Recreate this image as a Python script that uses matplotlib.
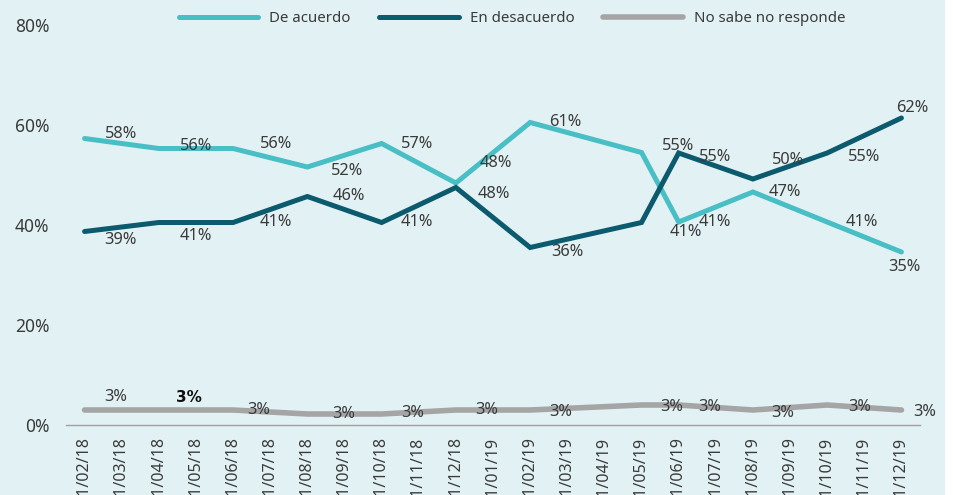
import matplotlib
matplotlib.use("Agg")
import matplotlib.pyplot as plt
from matplotlib.patches import Rectangle

plt.rcParams['font.family'] = ['Noto Sans', 'DejaVu Sans']

# ---- data ----
dates = ["01/02/18", "01/03/18", "01/04/18", "01/05/18", "01/06/18", "01/07/18",
         "01/08/18", "01/09/18", "01/10/18", "01/11/18", "01/12/18", "01/01/19",
         "01/02/19", "01/03/19", "01/04/19", "01/05/19", "01/06/19", "01/07/19",
         "01/08/19", "01/09/19", "01/10/19", "01/11/19", "01/12/19"]
survey_idx = [0, 2, 4, 6, 8, 10, 12, 15, 16, 18, 20, 22]

de_acuerdo = [57.3, 55.3, 55.3, 51.6, 56.3, 48.4, 60.5, 54.5, 40.6, 46.6, 40.6, 34.6]
en_desacuerdo = [38.7, 40.5, 40.5, 45.7, 40.5, 47.5, 35.5, 40.5, 54.4, 49.2, 54.4, 61.4]
no_sabe = [3.0, 3.0, 3.0, 2.2, 2.2, 3.0, 3.0, 4.0, 4.0, 3.0, 4.0, 3.0]

lbl_acuerdo = ["58%", "56%", "56%", "52%", "57%", "48%", "61%", "55%", "41%", "47%", "41%", "35%"]
lbl_desacuerdo = ["39%", "41%", "41%", "46%", "41%", "48%", "36%", "41%", "55%", "50%", "55%", "62%"]
lbl_nosabe = ["3%"] * 12

series_names = ["De acuerdo", "En desacuerdo", "No sabe no responde"]
yticks = [0, 20, 40, 60, 80]

# ---- style ----
c_acuerdo = "#48BEC5"
c_desacuerdo = "#0B5A6D"
c_nosabe = "#A5A5A5"
bg = "#E2F1F4"
txt = "#3A3A3A"

# label offsets in pixels (dx right, dy up)
off_acuerdo = [(36, 4), (37, 2), (43, 4), (40, -4), (35, 0), (40, 20), (35, 0),
               (37, 6), (36, 0), (32, 0), (35, 0), (3, -15)]
off_desacuerdo = [(36, -9), (37, -14), (43, 0), (41, 0), (35, 0), (38, -6), (37, -4),
                  (44, -10), (36, -4), (35, 19), (37, -4), (11, 10)]
off_nosabe = [(31, 13), (30, 13), (26, 0), (36, 0), (31, 1), (31, 0), (31, -2),
              (30, -2), (31, -2), (30, -3), (33, -2), (23, -2)]

W, H = 954, 495
fig = plt.figure(figsize=(W / 100, H / 100), dpi=100, facecolor="white")
fig.patches.append(Rectangle((0, 0), 945 / W, 1, transform=fig.transFigure,
                             facecolor=bg, edgecolor="none", zorder=-10))
ax = fig.add_axes([66 / W, (H - 425) / H, (920 - 66) / W, 400 / H])
ax.set_facecolor("none")

l1, = ax.plot(survey_idx, de_acuerdo, color=c_acuerdo, lw=3.6, solid_joinstyle="miter",
              solid_capstyle="round", label=series_names[0], zorder=3)
l2, = ax.plot(survey_idx, en_desacuerdo, color=c_desacuerdo, lw=3.6, solid_joinstyle="miter",
              solid_capstyle="round", label=series_names[1], zorder=4)
l3, = ax.plot(survey_idx, no_sabe, color=c_nosabe, lw=4.0, solid_joinstyle="round",
              solid_capstyle="round", label=series_names[2], zorder=2)

for vals, lbls, offs in [(de_acuerdo, lbl_acuerdo, off_acuerdo),
                         (en_desacuerdo, lbl_desacuerdo, off_desacuerdo),
                         (no_sabe, lbl_nosabe, off_nosabe)]:
    for k, (xi, v, s, o) in enumerate(zip(survey_idx, vals, lbls, offs)):
        if vals is no_sabe and k == 1:
            ax.annotate(s, (xi, v), xytext=o, textcoords="offset pixels",
                        ha="center", va="center", fontsize=11, color="#111111",
                        fontweight="bold", family=["DejaVu Sans"], zorder=6,
                        annotation_clip=False)
        else:
            ax.annotate(s, (xi, v), xytext=o, textcoords="offset pixels",
                        ha="center", va="center", fontsize=11.8, color=txt,
                        zorder=6, annotation_clip=False)

ax.set_xlim(-0.5, len(dates) - 0.5)
ax.set_ylim(0, 80)
ax.set_xticks(range(len(dates)))
ax.set_xticklabels(dates, rotation=90, fontsize=11.5, color=txt, va="top")
ax.set_yticks(yticks)
ax.set_yticklabels([f"{t}%" for t in yticks], fontsize=12.5, color=txt)
ax.tick_params(axis="both", length=0)
ax.tick_params(axis="y", pad=12)
ax.tick_params(axis="x", pad=9)
for s in ["top", "right", "left"]:
    ax.spines[s].set_visible(False)
ax.spines["bottom"].set_color("#A0A0A0")
ax.spines["bottom"].set_linewidth(1.0)

leg = fig.legend(handles=[l1, l2, l3], loc="center", bbox_to_anchor=(512 / W, 1 - 19 / H),
                 ncol=3, frameon=False, handlelength=5.3, columnspacing=1.9,
                 handletextpad=0.75, fontsize=10.8)
for t in leg.get_texts():
    t.set_color(txt)

fig.savefig("out.png", dpi=100, facecolor="white")
